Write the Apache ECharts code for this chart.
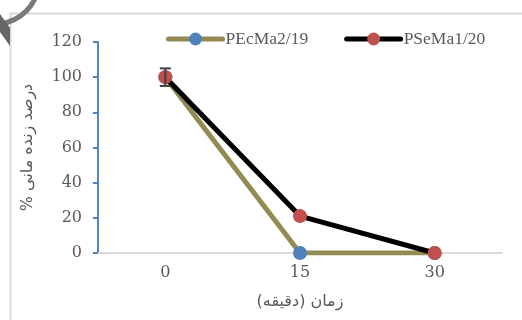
<!DOCTYPE html>
<html><head><meta charset="utf-8">
<script src="https://cdn.jsdelivr.net/npm/echarts@6/dist/echarts.min.js"></script>
<style>html,body{margin:0;padding:0;background:#fff;}#c{width:522px;height:320px;}</style>
</head><body><div id="c"></div>
<script>
var categories = ['0', '15', '30'];
var seriesNames = ['PEcMa2/19', 'PSeMa1/20'];
var pecmaValues = [100, 0, 0];
var psemaValues = [100, 21, 0];
var psemaErrors = [5, 0, 0];
var yTicks = [0, 20, 40, 60, 80, 100, 120];
var xTitle = 'زمان (دقیقه)';
var yTitle = '% درصد زنده مانی';

var chart = echarts.init(document.getElementById('c'), null, {renderer: 'canvas'});
var errData = psemaErrors.map(function (e, i) { return [i, psemaValues[i] - e, psemaValues[i] + e, e]; });

chart.setOption({
  backgroundColor: '#fff',
  animation: false,
  grid: {left: 98, top: 42, right: 20, bottom: 67},
  legend: {
    top: 25, left: 161,
    itemWidth: 54, itemHeight: 16, itemGap: 36,
    lineStyle: {width: 5, cap: 'round'},
    textStyle: {fontFamily: 'Liberation Serif', fontSize: 17.5, color: '#595959', padding: [0,0,0,-2]},
    data: seriesNames
  },
  graphic: [
    {type: 'rect', shape: {x: 10.5, y: 13.5, width: 560, height: 400}, style: {fill: 'none', stroke: '#D9D9D9', lineWidth: 2}, silent: true},
    {type: 'arc', shape: {cx: -5, cy: -20, r: 44, startAngle: 0, endAngle: Math.PI}, style: {fill: 'none', stroke: '#7a7a7a', lineWidth: 5}, silent: true},
    {type: 'polygon', shape: {points: [[0, 14], [10, 28], [10, 46], [0, 32]]}, style: {fill: '#666'}, silent: true}
  ],
  xAxis: {
    type: 'category', data: categories, boundaryGap: true,
    name: xTitle, nameLocation: 'middle', nameGap: 41,
    nameTextStyle: {fontFamily: 'DejaVu Sans', fontSize: 16, color: '#595959'},
    axisLine: {lineStyle: {color: '#D9D9D9', width: 2}},
    axisTick: {alignWithLabel: true, length: 5, lineStyle: {color: '#D9D9D9', width: 2}},
    axisLabel: {fontFamily: 'DejaVu Serif', fontSize: 16, color: '#595959', margin: 12}
  },
  yAxis: {
    type: 'value', min: 0, max: 120, interval: 20,
    name: yTitle, nameLocation: 'middle', nameGap: 62, nameRotate: 90,
    nameTextStyle: {fontFamily: 'DejaVu Sans', fontSize: 16, color: '#595959'},
    axisLine: {show: true, lineStyle: {color: '#4F86C6', width: 2}},
    axisTick: {show: true, length: 5, lineStyle: {color: '#4F86C6', width: 2}},
    axisLabel: {fontFamily: 'DejaVu Serif', fontSize: 16, color: '#595959', margin: 16},
    splitLine: {show: false}
  },
  series: [
    {
      name: seriesNames[0], type: 'line', data: pecmaValues, z: 2,
      symbol: 'circle', symbolSize: 14,
      lineStyle: {color: '#948A54', width: 5},
      itemStyle: {color: '#4F81BD'}
    },
    {
      name: seriesNames[1], type: 'line', data: psemaValues, z: 3,
      symbol: 'circle', symbolSize: 14,
      lineStyle: {color: '#000', width: 5},
      itemStyle: {color: '#C0504D'}
    },
    {
      type: 'custom', z: 4, silent: true,
      data: errData,
      renderItem: function (params, api) {
        if (api.value(3) === 0) return null;
        var lo = api.coord([api.value(0), api.value(1)]);
        var hi = api.coord([api.value(0), api.value(2)]);
        var w = 5.5;
        var st = {stroke: '#404040', lineWidth: 2};
        return {type: 'group', children: [
          {type: 'line', shape: {x1: lo[0], y1: lo[1], x2: hi[0], y2: hi[1]}, style: st},
          {type: 'line', shape: {x1: lo[0]-w, y1: lo[1], x2: lo[0]+w, y2: lo[1]}, style: st},
          {type: 'line', shape: {x1: hi[0]-w, y1: hi[1], x2: hi[0]+w, y2: hi[1]}, style: st}
        ]};
      }
    }
  ]
});
</script></body></html>
